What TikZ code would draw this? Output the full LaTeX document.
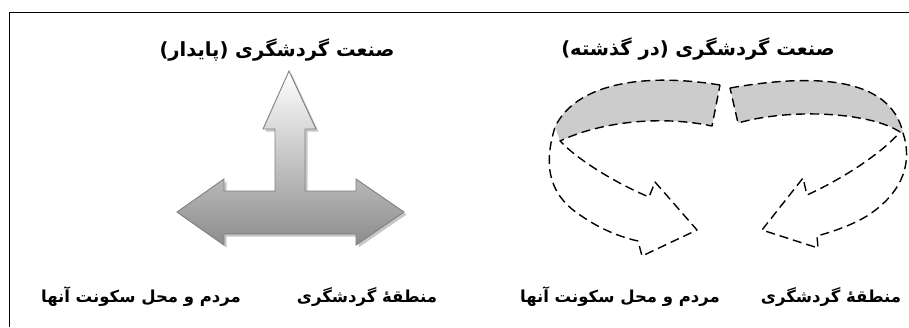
\documentclass[tikz,border=0pt]{standalone}
\usepackage{fontspec}
\newfontfamily\arabicfont[Script=Arabic]{DejaVu Sans}
\TeXXeTstate=1
\begin{document}
\begin{tikzpicture}[x=1pt,y=-1pt,
  lbl/.style={inner sep=0pt,font=\arabicfont\bfseries\fontsize{16.5}{19}\selectfont},
  ttl/.style={inner sep=0pt,font=\arabicfont\bfseries\fontsize{19.5}{22}\selectfont},
  frameline/.style={line width=0.9pt},
  tarrow/.style={draw=black!50,line width=0.9pt,top color=white,bottom color=black!45},
  tshadow/.style={fill=black!22},
  band/.style={fill=black!20},
  dashline/.style={line width=1.4pt,dash pattern=on 9pt off 5pt,line join=round}
]
\useasboundingbox (0,0) rectangle (909,327);
% frame
\draw[frameline] (9,327) -- (9,12) -- (909,12);

% left: three-way arrow
\def\tpath{(289,71) -- (316,129) -- (305,129) -- (305,191) -- (356,191) -- (356,179) -- (404,212) -- (356,245) -- (356,234) -- (224,234) -- (224,245) -- (177,212) -- (224,179) -- (224,191) -- (275,191) -- (275,129) -- (263,129) -- cycle}
\begin{scope}[shift={(2.5,2.5)}]
\fill[tshadow] \tpath;
\end{scope}
\path[tarrow] \tpath;

% right: two dashed curved arrows
\fill[band] (720,85) .. controls (640,72) and (575,85) .. (555,127) -- (560,141) .. controls (600,122) and (660,115) .. (712,126) -- cycle;
\draw[dashline] (720,85) .. controls (640,72) and (575,85) .. (555,127) .. controls (545,160) and (545,192) .. (580,215) .. controls (600,229) and (620,237) .. (638,241) -- (642,256) -- (697,230) -- (655,182) -- (649,197) .. controls (620,185) and (580,162) .. (560,141) .. controls (600,122) and (660,115) .. (712,126) -- cycle;

\fill[band] (730,88) .. controls (810,74) and (890,75) .. (903,133) -- (900,132) .. controls (870,112) and (790,108) .. (738,123) -- cycle;
\draw[dashline] (730,88) .. controls (810,74) and (890,75) .. (903,133) .. controls (912,160) and (905,190) .. (870,214) .. controls (855,224) and (835,231) .. (817,236) -- (818,248) -- (762,230) -- (803,178) -- (807,195) .. controls (840,180) and (880,155) .. (900,132) .. controls (870,112) and (790,108) .. (738,123) -- cycle;

% labels
\node[ttl] (t1) at (277,50) {\beginR صنعت گردشگری (پایدار)\endR};
\node[ttl] (t2) at (698,49) {\beginR صنعت گردشگری (در گذشته)\endR};
\node[lbl] (a1) at (367,297) {\beginR منطقهٔ گردشگری\endR};
\node[lbl] (b1) at (141,297) {\beginR مردم و محل سکونت آنها\endR};
\node[lbl] (a2) at (831,297) {\beginR منطقهٔ گردشگری\endR};
\node[lbl] (b2) at (620,297) {\beginR مردم و محل سکونت آنها\endR};
\end{tikzpicture}
\end{document}
